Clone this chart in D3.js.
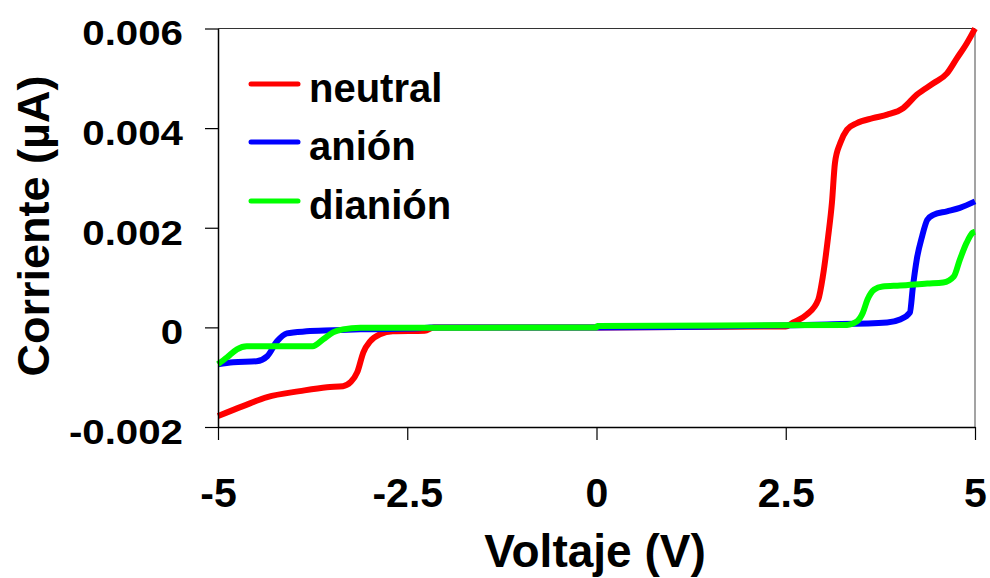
<!DOCTYPE html>
<html>
<head>
<meta charset="utf-8">
<script src="https://cdn.jsdelivr.net/npm/d3@7"></script>
<style>
  html, body { margin: 0; padding: 0; background: #fff; }
  svg { display: block; font-family: "Liberation Sans", Arial, sans-serif; font-weight: bold; }
</style>
</head>
<body>
<svg id="chart" width="990" height="578"></svg>
<script>
// I–V curves for the three charge states
const seriesNames = ["neutral", "anión", "dianión"];
const seriesColors = ["#ff0000", "#0000ff", "#00ff00"];

const neutralV = [-5, -4.67, -4.35, -3.92, -3.56, -3.35, -3.25, -3.16, -3.08, -2.99, -2.86, -2.69, -2.27, -2.15, 0, 2.5, 2.6, 2.78, 2.93, 2.99, 3.06, 3.11, 3.15, 3.22, 3.31, 3.44, 3.65, 3.84, 4.05, 4.23, 4.45, 4.63, 4.76, 4.89, 5.0];
const neutralI = [-0.00178, -0.00158, -0.0014, -0.00128, -0.0012, -0.00118, -0.0011, -0.0009, -0.0005, -0.00028, -0.00014, -0.00008, -0.00007, 0, 0, 0.00002, 0.0001, 0.00026, 0.00056, 0.00102, 0.00182, 0.0025, 0.0033, 0.0037, 0.00397, 0.0041, 0.0042, 0.00427, 0.0044, 0.00467, 0.0049, 0.0051, 0.0054, 0.0057, 0.006];

const anionV = [-5, -4.8, -4.49, -4.35, -4.22, -4.09, -3.83, -3.48, -3.12, -2.33, -2.2, 0, 3.04, 3.84, 4.01, 4.14, 4.18, 4.23, 4.30, 4.37, 4.45, 4.63, 4.8, 5.0];
const anionI = [-0.00074, -0.0007, -0.00068, -0.00058, -0.00028, -0.00012, -0.00008, -0.00006, -0.00004, -0.00002, 0, 0, 0.00006, 0.0001, 0.00016, 0.0003, 0.00082, 0.00136, 0.00182, 0.00216, 0.00226, 0.00233, 0.0024, 0.00253];

const dianionV = [-5, -4.88, -4.75, -4.62, -4.14, -3.75, -3.61, -3.48, -3.35, -3.12, 0, 0.01, 3.31, 3.44, 3.52, 3.58, 3.67, 3.78, 4.01, 4.37, 4.58, 4.72, 4.8, 4.89, 4.97, 5.0];
const dianionI = [-0.00074, -0.0006, -0.00044, -0.00038, -0.00038, -0.00038, -0.00024, -0.0001, -0.00004, -0.00001, 0, 0.00003, 0.00005, 0.00012, 0.0003, 0.00056, 0.00076, 0.00082, 0.00084, 0.00088, 0.0009, 0.00102, 0.00136, 0.0017, 0.0019, 0.00192];

const xTicks = [-5, -2.5, 0, 2.5, 5];
const xTickLabels = ["-5", "-2.5", "0", "2.5", "5"];
const yTicks = [-0.002, 0, 0.002, 0.004, 0.006];
const yTickLabels = ["-0.002", "0", "0.002", "0.004", "0.006"];

const xTitle = "Voltaje (V)";
const yTitle = "Corriente (µA)";

const series = [
  { name: seriesNames[0], color: seriesColors[0], pts: neutralV.map((v, i) => [v, neutralI[i]]) },
  { name: seriesNames[1], color: seriesColors[1], pts: anionV.map((v, i) => [v, anionI[i]]) },
  { name: seriesNames[2], color: seriesColors[2], pts: dianionV.map((v, i) => [v, dianionI[i]]) }
];

const svg = d3.select("#chart");
const plot = { left: 218, right: 975, top: 28.5, bottom: 427 };

const x = d3.scaleLinear().domain([-5, 5]).range([plot.left, plot.right]);
const y = d3.scaleLinear().domain([-0.002, 0.006]).range([plot.bottom, plot.top]);

// plot frame (top and right edges)
svg.append("line").attr("x1", plot.left).attr("x2", plot.right)
  .attr("y1", plot.top).attr("y2", plot.top).attr("stroke", "#333").attr("stroke-width", 1.2);
svg.append("line").attr("x1", plot.right).attr("x2", plot.right)
  .attr("y1", plot.top).attr("y2", plot.bottom).attr("stroke", "#666").attr("stroke-width", 1.2);

// curves
const line = d3.line().x(d => x(d[0])).y(d => y(d[1])).curve(d3.curveMonotoneX);
svg.append("g").selectAll("path").data(series).join("path")
  .attr("d", d => line(d.pts))
  .attr("fill", "none")
  .attr("stroke", d => d.color)
  .attr("stroke-width", 6)
  .attr("stroke-linejoin", "round");

// axes
const xAxis = d3.axisBottom(x).tickValues(xTicks).tickFormat((d, i) => xTickLabels[i]).tickSize(13).tickSizeOuter(0);
const yAxis = d3.axisLeft(y).tickValues(yTicks).tickFormat((d, i) => yTickLabels[i]).tickSize(13).tickSizeOuter(0);

const gx = svg.append("g").attr("transform", `translate(0,${plot.bottom})`).call(xAxis);
const gy = svg.append("g").attr("transform", `translate(${plot.left},0)`).call(yAxis);

[gx, gy].forEach(g => {
  g.select(".domain").attr("stroke", "#000").attr("stroke-width", 1.5);
  g.selectAll(".tick line").attr("stroke", "#000").attr("stroke-width", 1.2);
  g.selectAll(".tick text").attr("fill", "#000").attr("font-family", "Liberation Sans, Arial, sans-serif").attr("font-weight", "bold");
});

gx.selectAll(".tick text").attr("font-size", 41).attr("dy", null).attr("y", 80 - 0);
gx.selectAll(".tick text").attr("y", 80);

gy.selectAll(".tick text")
  .attr("font-size", 35)
  .attr("x", -35)
  .attr("dy", "0.47em")
  .each(function () {
    const w = this.getComputedTextLength();
    d3.select(this).attr("textLength", w * 1.15).attr("lengthAdjust", "spacingAndGlyphs");
  });

// axis titles
svg.append("text").text(xTitle)
  .attr("x", 595).attr("y", 567)
  .attr("text-anchor", "middle").attr("font-size", 46);

svg.append("text").text(yTitle)
  .attr("transform", "translate(49,226) rotate(-90)")
  .attr("text-anchor", "middle").attr("font-size", 45);

// legend
const legend = svg.append("g");
const legY = [84, 142, 201];
series.forEach((s, i) => {
  legend.append("line")
    .attr("x1", 251).attr("x2", 298)
    .attr("y1", legY[i]).attr("y2", legY[i])
    .attr("stroke", s.color).attr("stroke-width", 5).attr("stroke-linecap", "round");
  legend.append("text").text(s.name)
    .attr("x", 309).attr("y", legY[i] + 18)
    .attr("font-size", 40);
});
</script>
</body>
</html>
